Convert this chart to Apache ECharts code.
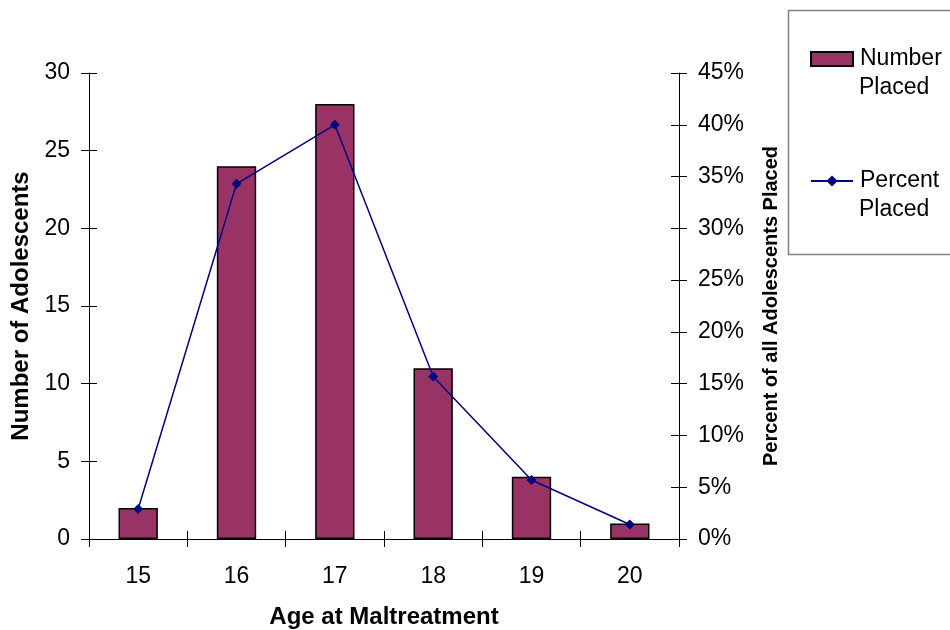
<!DOCTYPE html>
<html><head><meta charset="utf-8">
<script src="https://cdn.jsdelivr.net/npm/echarts@6/dist/echarts.min.js"></script>
<style>html,body{margin:0;padding:0;background:#fff}#c{width:950px;height:630px}</style>
</head><body><div id="c"></div>
<script>
var ages = ['15','16','17','18','19','20'];
var numberPlaced = [2, 24, 28, 11, 4, 1];
var percentPlaced = [2.9, 34.3, 40.0, 15.7, 5.7, 1.4];
var leftTicks = [0, 30, 5];
var rightTicks = [0, 45, 5];
var seriesNames = ['Number Placed', 'Percent Placed'];

var chart = echarts.init(document.getElementById('c'), null, {renderer:'canvas'});
var F = 'Liberation Sans, Arial, sans-serif';
var axisLine = {show:true, lineStyle:{color:'#000', width:1}};
var baseY = function(pos, rng, fmt, name, gap, rot, nameSize){
  return {
    type:'value', position:pos, min:rng[0], max:rng[1], interval:rng[2],
    axisLine:axisLine, splitLine:{show:false},
    axisTick:{show:true, length:8, lineStyle:{color:'#000'}},
    axisLabel:{fontFamily:F, fontSize:23, color:'#000', margin:19, formatter:fmt},
    name:name, nameLocation:'middle', nameGap:gap, nameRotate:rot,
    nameTextStyle:{fontFamily:F, fontSize:nameSize, fontWeight:'bold', color:'#000'}
  };
};
var innerY = function(pos, rng){
  return {type:'value', position:pos, min:rng[0], max:rng[1], interval:rng[2],
    axisLine:{show:false}, splitLine:{show:false}, axisLabel:{show:false},
    axisTick:{show:true, inside:true, length:8, lineStyle:{color:'#000'}}};
};
var y0 = baseY('left', leftTicks, '{value}', 'Number of Adolescents', 55, 90, 24);
var y1 = baseY('right', rightTicks, '{value}%', 'Percent of all Adolescents Placed', 82, 90, 20);
var y2 = innerY('left', leftTicks);
var y3 = innerY('right', rightTicks);

chart.setOption({
  animation:false,
  grid:{left:89, right:271, top:73, bottom:91, outerBoundsMode:'none', containLabel:false},
  xAxis:[{
    type:'category', data:ages, position:'bottom',
    axisLine:axisLine,
    axisTick:{show:true, length:8, lineStyle:{color:'#000'}},
    axisLabel:{fontFamily:F, fontSize:23, color:'#000', margin:26},
    name:'Age at Maltreatment', nameLocation:'middle', nameGap:66,
    nameTextStyle:{fontFamily:F, fontSize:24, fontWeight:'bold', color:'#000'}
  },{
    type:'category', data:ages, position:'bottom',
    axisLine:{show:false}, axisLabel:{show:false},
    axisTick:{show:true, inside:true, length:8, lineStyle:{color:'#000'}}
  }],
  yAxis:[y0, y1, y2, y3],
  legend:{
    orient:'vertical', left:810, top:44, itemGap:92, padding:0,
    itemWidth:42, itemHeight:14,
    textStyle:{fontFamily:F, fontSize:23, color:'#000', lineHeight:30, padding:[0,0,0,2]},
    formatter:function(n){return n.split(' ')[0];},
    data:[{name:seriesNames[0], icon:'rect'}, {name:seriesNames[1]}]
  },
  graphic:[
    {type:'rect', shape:{x:788.5, y:10.5, width:170, height:244},
     style:{fill:'none', stroke:'#808080', lineWidth:1.5}, z:-1},
    {type:'text', left:859, top:76, style:{text:seriesNames[0].split(' ')[1], font:'23px ' + F, fill:'#000'}},
    {type:'text', left:859, top:198, style:{text:seriesNames[1].split(' ')[1], font:'23px ' + F, fill:'#000'}}
  ],
  series:[{
    name:seriesNames[0], type:'bar', xAxisIndex:0, yAxisIndex:0,
    data:numberPlaced, barWidth:'40%',
    itemStyle:{color:'#993366', borderColor:'#000', borderWidth:1.5}
  },{
    name:seriesNames[1], type:'line', xAxisIndex:0, yAxisIndex:1,
    data:percentPlaced, symbol:'diamond', symbolSize:10,
    lineStyle:{color:'#000080', width:1.5},
    itemStyle:{color:'#000080'}
  }]
});
</script></body></html>
